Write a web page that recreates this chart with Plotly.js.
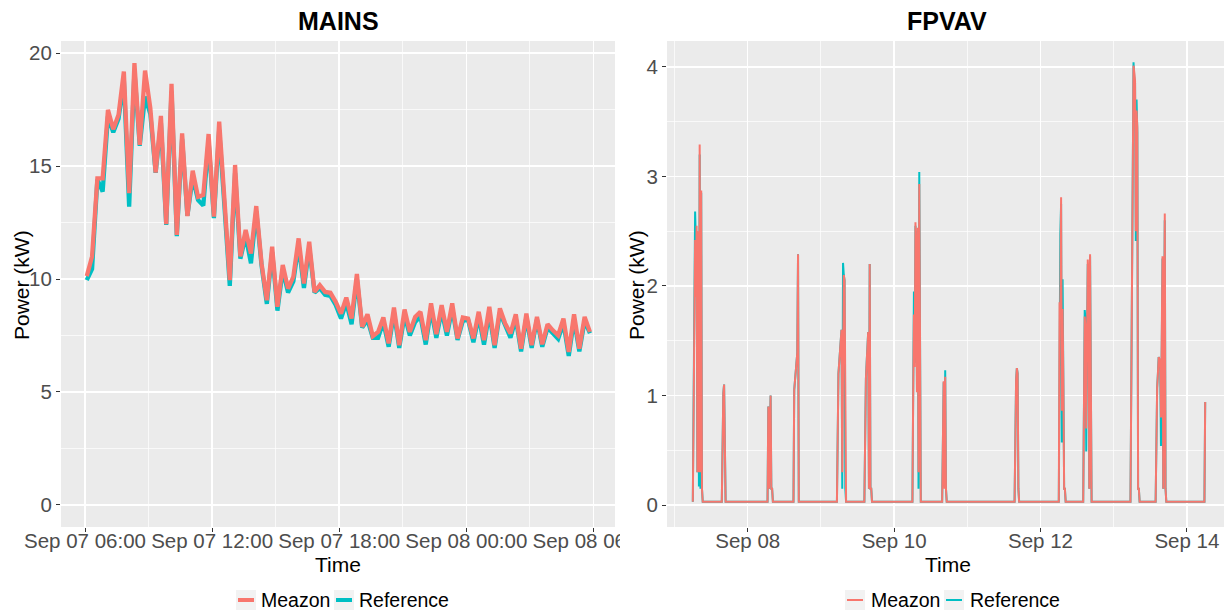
<!DOCTYPE html>
<html><head><meta charset="utf-8">
<script src="https://cdn.plot.ly/plotly-3.0.1.min.js"></script>
<style>html,body{margin:0;padding:0;background:#fff;overflow:hidden;}#chart{width:1224px;height:611px;}</style>
</head><body><div id="chart"></div>
<script>
// ---------- MAINS (15-minute samples) ----------
const mainsStart = '2019-09-07T06:05:00';
const mainsStepMinutes = 15;
const mainsMeazon = [
 10.13,11.00,14.46,14.46,17.49,16.63,17.27,19.19,13.80,19.56,
 15.94,19.23,17.56,14.71,17.22,12.43,18.64,11.95,16.45,12.79,
 14.80,13.64,13.72,16.42,12.76,16.97,13.50,9.95,15.05,11.00,
 12.17,11.13,13.23,10.69,9.06,11.43,8.77,10.62,9.58,10.10,
 11.80,9.80,11.65,9.43,9.73,9.43,9.39,8.99,8.47,9.18,
 8.25,10.22,7.88,8.44,7.47,7.66,8.30,7.15,8.74,7.07,
 8.65,7.66,8.32,8.55,7.29,8.92,7.56,8.84,7.66,8.92,
 7.37,8.30,8.25,7.37,8.55,7.29,8.77,7.07,8.70,8.03,
 7.59,8.44,6.92,8.47,7.07,8.32,7.11,8.00,7.73,7.51,
 8.25,6.77,8.44,6.92,8.32,7.66];
const mainsReference = [
 9.95,10.45,14.40,13.87,17.20,16.50,17.10,18.80,13.20,19.20,
 15.90,18.08,17.30,14.70,16.90,12.40,18.30,11.90,16.20,12.80,
 14.50,13.50,13.25,16.10,12.70,16.60,13.20,9.70,14.70,10.90,
 11.90,10.70,13.00,10.60,8.90,11.20,8.60,10.40,9.40,9.90,
 11.50,9.60,11.40,9.40,9.60,9.30,9.25,8.85,8.25,8.95,
 8.00,10.00,7.85,8.20,7.40,7.40,8.10,7.00,8.50,6.95,
 8.40,7.50,8.10,8.35,7.10,8.65,7.40,8.60,7.50,8.70,
 7.30,8.15,8.20,7.20,8.35,7.10,8.50,6.95,8.50,7.90,
 7.40,8.25,6.80,8.30,6.95,8.20,7.00,7.85,7.60,7.35,
 8.05,6.60,8.20,6.80,8.15,7.60];

// ---------- FPVAV (change points of the 15-minute series) ----------
const fpvavTime = [
 '2019-09-07 06:00','2019-09-07 06:15','2019-09-07 06:30','2019-09-07 06:45','2019-09-07 07:00','2019-09-07 07:15','2019-09-07 07:30','2019-09-07 07:45','2019-09-07 08:00','2019-09-07 08:15','2019-09-07 08:30','2019-09-07 08:45','2019-09-07 09:00','2019-09-07 09:15',
 '2019-09-07 15:30','2019-09-07 15:45','2019-09-07 16:00','2019-09-07 16:15','2019-09-07 16:30','2019-09-07 16:45',
 '2019-09-08 06:30','2019-09-08 06:45','2019-09-08 07:00','2019-09-08 07:15','2019-09-08 07:30','2019-09-08 07:45','2019-09-08 08:00','2019-09-08 08:15',
 '2019-09-08 15:00','2019-09-08 15:15','2019-09-08 15:30','2019-09-08 15:45','2019-09-08 16:00','2019-09-08 16:15','2019-09-08 16:30','2019-09-08 16:45',
 '2019-09-09 05:15','2019-09-09 05:30','2019-09-09 05:45','2019-09-09 06:00','2019-09-09 06:15','2019-09-09 06:30','2019-09-09 06:45','2019-09-09 07:00','2019-09-09 07:15','2019-09-09 07:30','2019-09-09 07:45','2019-09-09 08:00','2019-09-09 08:15',
 '2019-09-09 14:15','2019-09-09 14:30','2019-09-09 14:45','2019-09-09 15:00','2019-09-09 15:15','2019-09-09 15:30','2019-09-09 15:45','2019-09-09 16:00','2019-09-09 16:15','2019-09-09 16:30','2019-09-09 16:45',
 '2019-09-10 06:00','2019-09-10 06:15','2019-09-10 06:30','2019-09-10 06:45','2019-09-10 07:00','2019-09-10 07:15','2019-09-10 07:30','2019-09-10 07:45','2019-09-10 08:00','2019-09-10 08:15','2019-09-10 08:30','2019-09-10 08:45',
 '2019-09-10 15:45','2019-09-10 16:00','2019-09-10 16:15','2019-09-10 16:30','2019-09-10 16:45','2019-09-10 17:00','2019-09-10 17:15',
 '2019-09-11 15:30','2019-09-11 15:45','2019-09-11 16:00','2019-09-11 16:15','2019-09-11 16:30','2019-09-11 16:45','2019-09-11 17:00',
 '2019-09-12 06:00','2019-09-12 06:15','2019-09-12 06:30','2019-09-12 06:45','2019-09-12 07:00','2019-09-12 07:15','2019-09-12 07:30','2019-09-12 07:45','2019-09-12 08:00','2019-09-12 08:15',
 '2019-09-12 14:00','2019-09-12 14:15','2019-09-12 14:30','2019-09-12 14:45','2019-09-12 15:00','2019-09-12 15:15','2019-09-12 15:30','2019-09-12 15:45','2019-09-12 16:00','2019-09-12 16:15','2019-09-12 16:30','2019-09-12 16:45',
 '2019-09-13 05:30','2019-09-13 05:45','2019-09-13 06:00','2019-09-13 06:15','2019-09-13 06:30','2019-09-13 06:45','2019-09-13 07:00','2019-09-13 07:15','2019-09-13 07:30','2019-09-13 07:45','2019-09-13 08:00','2019-09-13 08:15','2019-09-13 08:30',
 '2019-09-13 13:45','2019-09-13 14:00','2019-09-13 14:15','2019-09-13 14:30','2019-09-13 14:45','2019-09-13 15:00','2019-09-13 15:15','2019-09-13 15:30','2019-09-13 15:45','2019-09-13 16:00','2019-09-13 16:15','2019-09-13 16:30','2019-09-13 16:45','2019-09-13 17:00','2019-09-13 17:15',
 '2019-09-14 05:45','2019-09-14 06:00'];
const fpvavMeazon = [
 0.03,1.00,1.90,2.42,1.90,2.55,0.30,2.50,0.30,3.29,0.30,2.87,0.15,0.03,
 0.03,0.97,1.02,1.10,0.30,0.03,
 0.03,0.90,0.15,0.85,1.00,0.15,0.15,0.03,
 0.03,1.05,1.15,1.25,1.32,1.39,2.29,0.03,
 0.03,1.07,1.20,1.30,1.40,1.50,1.60,0.30,2.05,2.10,2.05,0.15,0.03,
 0.03,1.00,1.15,1.30,1.45,1.58,0.15,2.20,0.15,0.15,0.03,
 0.03,1.00,1.74,1.26,2.58,2.20,1.03,2.53,0.30,2.93,0.15,0.03,
 0.03,1.09,1.13,0.15,1.17,0.15,0.03,
 0.03,1.08,1.14,1.25,1.20,0.15,0.03,
 0.03,1.85,1.80,2.81,0.86,1.79,1.10,0.15,0.15,0.03,
 0.03,1.00,1.72,1.60,0.70,1.50,2.24,2.10,0.15,2.29,0.15,0.03,
 0.03,1.10,2.23,2.30,4.01,3.95,3.87,2.50,3.60,3.45,0.15,0.15,0.03,
 0.03,0.80,1.07,1.20,1.35,1.33,1.30,0.80,1.40,2.27,0.15,2.29,2.66,0.15,0.03,
 0.03,0.94];
const fpvavReference = [
 0.03,1.00,1.90,2.68,2.40,2.50,0.30,2.45,0.17,3.20,0.15,2.85,0.15,0.03,
 0.03,0.97,1.02,1.10,0.30,0.03,
 0.03,0.90,0.15,0.85,1.00,0.15,0.15,0.03,
 0.03,1.05,1.15,1.25,1.32,1.39,2.29,0.03,
 0.03,1.07,1.20,1.30,1.40,1.50,1.60,0.15,2.21,2.10,2.05,0.15,0.03,
 0.03,1.00,1.15,1.30,1.45,1.58,0.15,2.20,0.15,0.15,0.03,
 0.03,1.00,1.95,1.30,2.55,2.20,1.05,2.50,0.15,3.04,0.15,0.03,
 0.03,1.09,1.12,0.17,1.23,0.15,0.03,
 0.03,1.08,1.14,1.25,1.20,0.15,0.03,
 0.03,1.85,2.47,2.75,0.57,2.06,1.10,0.15,0.15,0.03,
 0.03,1.00,1.78,1.70,0.49,1.50,2.20,2.10,0.15,2.27,0.15,0.03,
 0.03,1.10,2.23,2.30,4.04,3.90,3.85,2.41,3.70,3.40,0.15,0.15,0.03,
 0.03,0.80,1.07,1.20,1.35,1.33,1.30,0.54,1.40,2.25,0.15,2.27,2.60,0.15,0.03,
 0.03,0.94];

const seriesNames = ['Meazon','Reference'];
const seriesColors = {Meazon:'#F8766D', Reference:'#00BFC4'};

// sampling grid of the MAINS series
const t0 = new Date(mainsStart + 'Z').getTime();
const mainsTime = mainsMeazon.map((_, i) =>
  new Date(t0 + i * mainsStepMinutes * 60000).toISOString().slice(0,16).replace('T',' '));

const W = 1224, H = 611;
const px = x => x / W, py = y => 1 - y / H;
const FONT = 'Liberation Sans, Arial, sans-serif';

const traces = [
  {x: mainsTime, y: mainsReference, name: 'Reference', type:'scatter', mode:'lines',
   line:{color:seriesColors.Reference, width:4.3}, xaxis:'x', yaxis:'y', showlegend:false},
  {x: mainsTime, y: mainsMeazon, name: 'Meazon', type:'scatter', mode:'lines',
   line:{color:seriesColors.Meazon, width:4.3}, xaxis:'x', yaxis:'y', showlegend:false},
  {x: fpvavTime, y: fpvavReference, name: 'Reference', type:'scatter', mode:'lines',
   line:{color:seriesColors.Reference, width:2}, xaxis:'x2', yaxis:'y2', showlegend:false},
  {x: fpvavTime, y: fpvavMeazon, name: 'Meazon', type:'scatter', mode:'lines',
   line:{color:seriesColors.Meazon, width:2}, xaxis:'x2', yaxis:'y2', showlegend:false}
];

const tickStyle = {ticks:'outside', ticklen:4, tickwidth:1, tickcolor:'#333333',
  tickfont:{family:FONT, size:20.5, color:'#4D4D4D'}, showgrid:true, gridcolor:'#FFFFFF',
  gridwidth:1.5, zeroline:false, showline:false, automargin:false};
const minorStyle = {showgrid:true, gridcolor:'#FFFFFF', gridwidth:0.7, ticks:''};
const yDomain = [py(527), py(41)];

// hand-placed legend keys (ggplot style: grey key box + line sample + label)
const legendKeys = [
  {panel:'MAINS', name:'Meazon', keyX:246, textX:259, width:4},
  {panel:'MAINS', name:'Reference', keyX:344, textX:357, width:4},
  {panel:'FPVAV', name:'Meazon', keyX:855, textX:869, width:2},
  {panel:'FPVAV', name:'Reference', keyX:954, textX:968, width:2}
];
const legendY = 600;
const shapes = [
  {type:'rect', xref:'paper', yref:'paper', x0:px(620), x1:px(664), y0:py(562), y1:py(529),
   fillcolor:'#FFFFFF', line:{width:0}, layer:'above'}
];
const annotations = [];
legendKeys.forEach(k => {
  shapes.push({type:'rect', xref:'paper', yref:'paper', x0:px(k.keyX-10), x1:px(k.keyX+10),
    y0:py(legendY+10), y1:py(legendY-10), fillcolor:'#F2F2F2', line:{width:0}, layer:'above'});
  shapes.push({type:'line', xref:'paper', yref:'paper', x0:px(k.keyX-8), x1:px(k.keyX+8),
    y0:py(legendY), y1:py(legendY), line:{color:seriesColors[k.name], width:k.width}, layer:'above'});
  annotations.push({text:k.name, x:px(k.textX), y:py(legendY), xref:'paper', yref:'paper',
    showarrow:false, xanchor:'left', yanchor:'middle', font:{family:FONT, size:19.5, color:'#000'}});
});

annotations.push(
  {text:'<b>MAINS</b>', x:px(338), y:py(21), xref:'paper', yref:'paper', showarrow:false,
   xanchor:'center', yanchor:'middle', font:{family:FONT, size:25, color:'#000'}},
  {text:'<b>FPVAV</b>', x:px(947), y:py(21), xref:'paper', yref:'paper', showarrow:false,
   xanchor:'center', yanchor:'middle', font:{family:FONT, size:25, color:'#000'}},
  {text:'Time', x:px(338), y:py(564), xref:'paper', yref:'paper', showarrow:false,
   xanchor:'center', yanchor:'middle', font:{family:FONT, size:21, color:'#000'}},
  {text:'Time', x:px(948), y:py(564), xref:'paper', yref:'paper', showarrow:false,
   xanchor:'center', yanchor:'middle', font:{family:FONT, size:21, color:'#000'}},
  {text:'Power (kW)', x:px(22), y:py(285), xref:'paper', yref:'paper', showarrow:false,
   textangle:-90, xanchor:'center', yanchor:'middle', font:{family:FONT, size:21, color:'#000'}},
  {text:'Power (kW)', x:px(637), y:py(285), xref:'paper', yref:'paper', showarrow:false,
   textangle:-90, xanchor:'center', yanchor:'middle', font:{family:FONT, size:21, color:'#000'}}
);

const layout = {
  width: W, height: H, margin:{l:0,r:0,t:0,b:0,pad:0,autoexpand:false},
  paper_bgcolor:'#FFFFFF', plot_bgcolor:'#EBEBEB',
  font:{family:FONT, color:'#000'},
  showlegend:false,
  xaxis: Object.assign({}, tickStyle, {domain:[px(61), px(615)], anchor:'y', type:'date',
    range:['2019-09-07 04:52','2019-09-08 07:01'], tick0:'2019-09-07 00:00', dtick:6*3600000,
    tickformat:'%b %d %H:%M', ticklabelstandoff:-9,
    minor: Object.assign({}, minorStyle, {tick0:'2019-09-07 00:00', dtick:3*3600000})}),
  yaxis: Object.assign({}, tickStyle, {domain:yDomain, anchor:'x', range:[-0.98, 20.54],
    tick0:0, dtick:5, minor: Object.assign({}, minorStyle, {tick0:0, dtick:2.5})}),
  xaxis2: Object.assign({}, tickStyle, {domain:[px(667), 1], anchor:'y2', type:'date',
    range:['2019-09-06 21:32','2019-09-14 12:10'], tick0:'2019-09-08', dtick:2*86400000,
    tickformat:'%b %d', ticklabelstandoff:-9,
    minor: Object.assign({}, minorStyle, {tick0:'2019-09-07', dtick:86400000})}),
  yaxis2: Object.assign({}, tickStyle, {domain:yDomain, anchor:'x2', range:[-0.2, 4.235],
    tick0:0, dtick:1, minor: Object.assign({}, minorStyle, {tick0:0, dtick:0.5})}),
  shapes: shapes,
  annotations: annotations
};

Plotly.newPlot('chart', traces, layout, {staticPlot:true, displayModeBar:false});
</script>
</body></html>
